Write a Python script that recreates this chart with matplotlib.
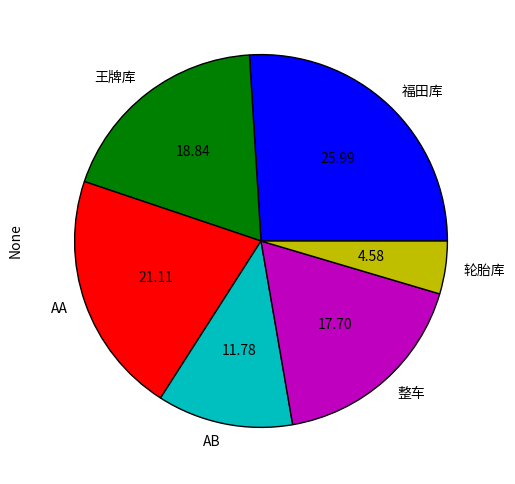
import matplotlib
matplotlib.use("Agg")
import matplotlib.pyplot as plt

plt.rcParams['font.family'] = ['Noto Sans CJK SC', 'DejaVu Sans']

labels = ["福田库", "王牌库", "AA", "AB", "整车", "轮胎库"]
values = [25.99, 18.84, 21.11, 11.78, 17.70, 4.58]
colors = ["b", "g", "r", "c", "m", "y"]

fig = plt.figure(figsize=(5.15, 4.84), dpi=100)
ax = fig.add_axes([28 / 515, 10 / 484, 466 / 515, 466 / 484])

ax.pie(values, labels=labels, colors=colors, autopct="%.2f",
       startangle=0, counterclock=True,
       wedgeprops=dict(edgecolor="black", linewidth=1.0),
       textprops=dict(fontsize=10))
ax.set_aspect("equal")
ax.set_ylabel("None", fontsize=10)

fig.savefig("out.png", dpi=100)
